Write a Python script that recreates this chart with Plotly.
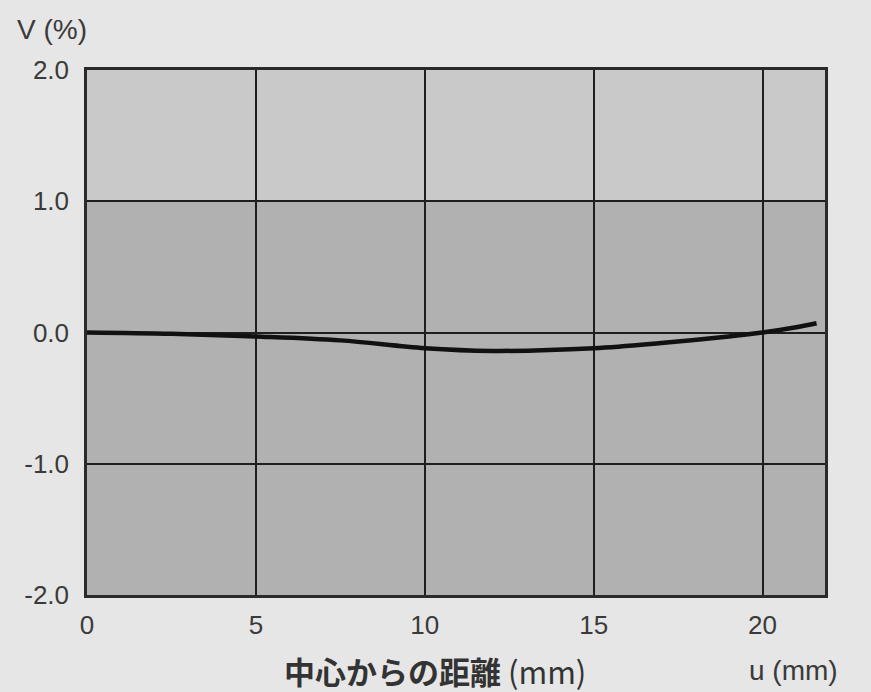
import plotly.graph_objects as go

# Data
u_mm = [0, 2.5, 5, 7.5, 10, 12, 15, 17, 19, 20, 21, 21.6]
v_pct = [0.0, -0.01, -0.03, -0.06, -0.12, -0.14, -0.12, -0.08, -0.03, 0.0, 0.04, 0.07]

x_ticks = [0, 5, 10, 15, 20]
x_tick_labels = ["0", "5", "10", "15", "20"]
y_ticks = [2, 1, 0, -1, -2]
y_tick_labels = ["2.0", "1.0", "0.0", "-1.0", "-2.0"]

fig = go.Figure()
fig.add_trace(go.Scatter(x=u_mm, y=v_pct, mode="lines",
                         line=dict(color="#111111", width=4.5, shape="spline"),
                         showlegend=False, hoverinfo="skip"))

# lighter upper band (photo lighting)
fig.add_shape(type="rect", xref="x", yref="y", x0=0, x1=21.85, y0=1, y1=2,
              fillcolor="#c9c9c9", line_width=0, layer="below")

txt = "#3a3a3a"
fig.update_layout(
    width=871, height=692,
    margin=dict(l=87, r=46, t=70, b=97),
    paper_bgcolor="#e6e6e6",
    plot_bgcolor="#b1b1b1",
    font=dict(family="Liberation Sans, Arial, sans-serif", size=26, color=txt),
    xaxis=dict(range=[0, 21.85], tickvals=x_ticks, ticktext=x_tick_labels,
               showgrid=True, gridcolor="#1e1e1e", gridwidth=1.6,
               zeroline=False, showline=True, linecolor="#2a2a2a", linewidth=2.5,
               mirror=True, ticks="", ticklabelstandoff=5),
    yaxis=dict(range=[-2, 2], tickvals=y_ticks, ticktext=y_tick_labels,
               showgrid=True, gridcolor="#1e1e1e", gridwidth=1.6,
               zeroline=False, showline=True, linecolor="#2a2a2a", linewidth=2.5,
               mirror=True, ticks="", ticklabelstandoff=10),
)

fig.add_annotation(text="V (%)", xref="paper", yref="paper", x=(52 - 87) / 738, y=1.0,
                   yshift=41, xanchor="center", yanchor="middle", showarrow=False,
                   font=dict(size=28, color=txt))
fig.add_annotation(text="<b>中心からの距離</b> (mm)", xref="paper", yref="paper",
                   x=(435 - 87) / 738, y=0, yshift=-75, xanchor="center", yanchor="middle",
                   showarrow=False,
                   font=dict(family="Noto Sans CJK JP, Liberation Sans", size=31, color="#333333"))
fig.add_annotation(text="u (mm)", xref="paper", yref="paper",
                   x=(793 - 87) / 738, y=0, yshift=-75, xanchor="center", yanchor="middle",
                   showarrow=False, font=dict(size=28, color=txt))

fig.write_html("out.html", config={"displayModeBar": False},
               post_script="document.body.style.margin='0';document.body.style.background='#e6e6e6';")
